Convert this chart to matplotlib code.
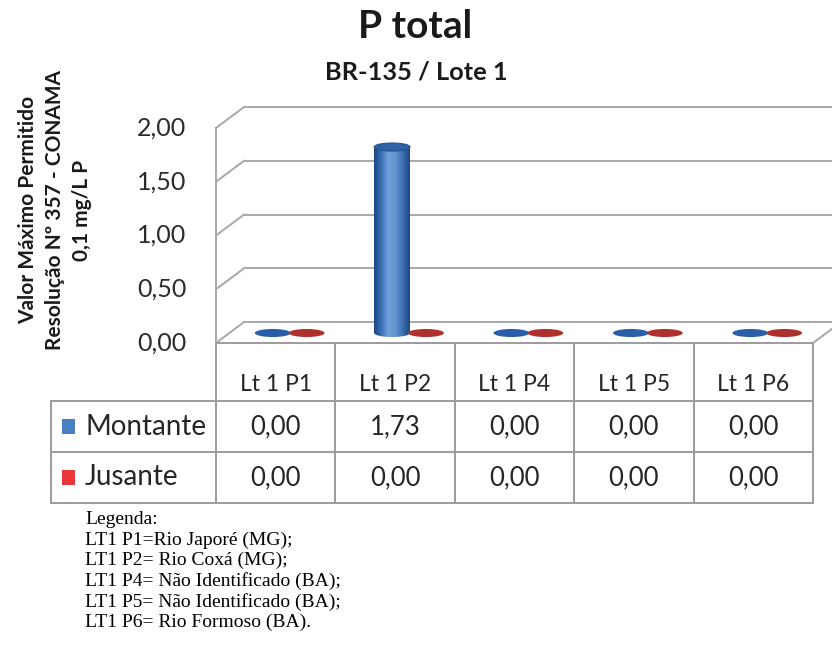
import numpy as np
import matplotlib
matplotlib.use("Agg")
import matplotlib.pyplot as plt
from matplotlib.patches import Ellipse, Rectangle
from matplotlib.colors import LinearSegmentedColormap

# ---- data ----
categories = ["Lt 1 P1", "Lt 1 P2", "Lt 1 P4", "Lt 1 P5", "Lt 1 P6"]
series_names = ["Montante", "Jusante"]
montante = [0.00, 1.73, 0.00, 0.00, 0.00]
jusante = [0.00, 0.00, 0.00, 0.00, 0.00]
y_ticks = [0.0, 0.5, 1.0, 1.5, 2.0]
legend_lines = [
    "Legenda:",
    "LT1 P1=Rio Japoré (MG);",
    "LT1 P2= Rio Coxá (MG);",
    "LT1 P4= Não Identificado (BA);",
    "LT1 P5= Não Identificado (BA);",
    "LT1 P6= Rio Formoso (BA).",
]

def fmt(v):
    return f"{v:.2f}".replace(".", ",")

plt.rcParams["font.family"] = ["Lato", "DejaVu Sans"]

W, H = 832, 646
fig = plt.figure(figsize=(W / 100, H / 100), dpi=100)
fig.patch.set_facecolor("white")

# axes spanning the whole figure; x in category units, y in value units
px_per_cat = 119.4
px_per_val = 107.5
x0_px, y0_px = 216, 343
ax = fig.add_axes([0, 0, 1, 1])
ax.set_xlim(-x0_px / px_per_cat, (W - x0_px) / px_per_cat)
ax.set_ylim(-(H - y0_px) / px_per_val, y0_px / px_per_val)
ax.set_aspect("auto")
ax.axis("off")

n = len(categories)
ymax = 2.0
ddx, ddy = 0.235, 0.195          # depth offset of the back wall
grid_c = "#a8a8a8"

# back wall gridlines and side-wall diagonals
for t in y_ticks:
    ax.plot([ddx, n + ddx], [t + ddy, t + ddy], color=grid_c, lw=1.4, zorder=1)
    ax.plot([0, ddx], [t, t + ddy], color=grid_c, lw=1.4, zorder=1)
ax.plot([0, 0], [0, ymax], color=grid_c, lw=1.4, zorder=1)
# floor right edge
ax.plot([n, n + ddx], [0, ddy], color=grid_c, lw=1.4, zorder=1)

# tick labels
for t in y_ticks:
    ax.text(-0.25, t, fmt(t), ha="right", va="center", fontsize=18, color="#2b2b2b")

# cylinders
blue_cmap = LinearSegmentedColormap.from_list(
    "bcyl", ["#1b4680", "#3a6fb4", "#72a2dc", "#6393d0", "#3c6fb3", "#1b4680"])
red_cmap = LinearSegmentedColormap.from_list(
    "rcyl", ["#7a1c1c", "#a83232", "#d65a5a", "#c94c4c", "#a83232", "#7a1c1c"])
cyl_w = 0.30
ell_h = 0.075
mid_dx, mid_dy = 0.117, 0.093
offsets = [-0.142, 0.142]
base_cols = [("#2a5ea8", blue_cmap, "#2f62a6"), ("#b0302e", red_cmap, "#b03a38")]
grad = np.linspace(0, 1, 256).reshape(1, -1)
for s, vals in enumerate([montante, jusante]):
    flat_c, cmap, top_c = base_cols[s]
    for i, v in enumerate(vals):
        cx = i + 0.5 + mid_dx + offsets[s]
        by = mid_dy
        if v > 0:
            ty = by + v
            body = Rectangle((cx - cyl_w / 2, by), cyl_w, v, facecolor="none", edgecolor="none")
            ax.add_patch(body)
            im = ax.imshow(grad, cmap=cmap, extent=[cx - cyl_w / 2, cx + cyl_w / 2, by, ty],
                           aspect="auto", zorder=3, interpolation="bilinear")
            im.set_clip_path(body)
            ax.imshow(grad, cmap=cmap, extent=[cx - cyl_w / 2, cx + cyl_w / 2, by - ell_h / 2, by],
                      aspect="auto", zorder=2.95, interpolation="bilinear").set_clip_path(
                Ellipse((cx, by), cyl_w, ell_h, transform=ax.transData))
            ax.add_patch(Ellipse((cx, ty), cyl_w, ell_h, facecolor=top_c,
                                 edgecolor="#24528f", lw=0.8, zorder=4))
        else:
            ax.add_patch(Ellipse((cx, by), cyl_w, ell_h, facecolor=flat_c,
                                 edgecolor="none", zorder=3))
ax.set_xlim(-x0_px / px_per_cat, (W - x0_px) / px_per_cat)
ax.set_ylim(-(H - y0_px) / px_per_val, y0_px / px_per_val)

# data table
tbl_c = "#9c9c9c"
row_y = [0.0, -0.54, -1.014, -1.488]
leg_x = -1.382
ax.plot([0, n], [row_y[0]] * 2, color=tbl_c, lw=1.4)
for r in row_y[1:]:
    ax.plot([leg_x, n], [r, r], color=tbl_c, lw=1.4)
for i in range(n + 1):
    ax.plot([i, i], [row_y[0], row_y[-1]], color=tbl_c, lw=1.4)
ax.plot([leg_x, leg_x], [row_y[1], row_y[-1]], color=tbl_c, lw=1.4)

txt_c = "#262626"
for i, c in enumerate(categories):
    ax.text(i + 0.5, -0.39, c, ha="center", va="center", fontsize=16.5, color=txt_c)
sq_cols = ["#4a7fc1", "#e8383a"]
for s, vals in enumerate([montante, jusante]):
    yc = (row_y[s + 1] + row_y[s + 2]) / 2
    ax.add_patch(Rectangle((leg_x + 0.09, yc - 0.07), 0.11, 0.14, facecolor=sq_cols[s],
                           edgecolor="none"))
    ax.text(leg_x + 0.285, yc, series_names[s], ha="left", va="center", fontsize=20, color=txt_c)
    for i, v in enumerate(vals):
        ax.text(i + 0.5, yc, fmt(v), ha="center", va="center", fontsize=18.5, color=txt_c)

# titles
fig.text(415 / W, 1 - 27 / H, "P total", ha="center", va="center", fontsize=28,
         fontweight="bold", color="#1a1a1a")
fig.text(416 / W, 1 - 72 / H, "BR-135 / Lote 1", ha="center", va="center", fontsize=18.3,
         fontweight="bold", color="#1a1a1a")
fig.text(55 / W, 1 - 210 / H, "Valor Máximo Permitido\nResolução Nº 357 - CONAMA\n0,1 mg/L P",
         ha="center", va="center", rotation=90, fontsize=15, fontweight="bold",
         color="#1a1a1a", linespacing=1.45, multialignment="center")

# legend text below the chart
for k, line in enumerate(legend_lines):
    fig.text(85 / W, 1 - (520 + k * 20.4) / H, line, ha="left", va="center", fontsize=14,
             family="Liberation Serif", color="black")

fig.savefig("out.png", dpi=100, facecolor="white")
